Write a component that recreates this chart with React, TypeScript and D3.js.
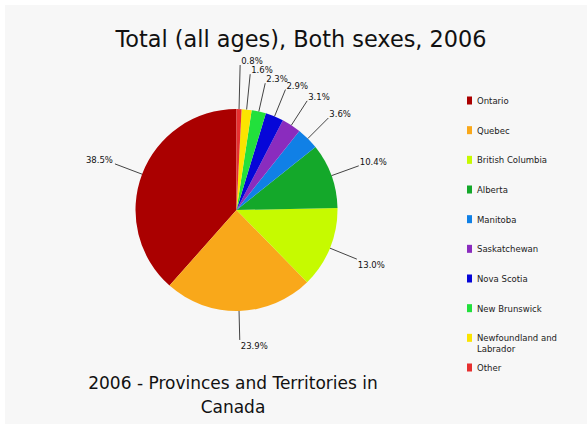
import React from "react";
import { pie, arc, scalePoint } from "d3";

// legend order (pie runs counter-clockwise from 12 o'clock in this order)
const provinces = [
  "Ontario",
  "Quebec",
  "British Columbia",
  "Alberta",
  "Manitoba",
  "Saskatchewan",
  "Nova Scotia",
  "New Brunswick",
  "Newfoundland and Labrador",
  "Other",
];
const shares = [38.5, 23.9, 13.0, 10.4, 3.6, 3.1, 2.9, 2.3, 1.6, 0.8];
const sliceColors = [
  "#aa0000",
  "#f9a81a",
  "#c6fa00",
  "#14a82a",
  "#1080e6",
  "#8a2cbe",
  "#0606d8",
  "#22e03c",
  "#fbe400",
  "#e63030",
];
const chartTitle = "Total (all ages), Both sexes, 2006";
const captionLines = ["2006 - Provinces and Territories in", "Canada"];

const W = 587;
const H = 424;
const cx = 236.5;
const cy = 210;
const radius = 101;
const labelRadius = 130;
const smallFont = "DejaVu Sans, Verdana, sans-serif";

// break long legend names onto two lines
function wrap(name: string, maxLen = 16): string[] {
  if (name.length <= maxLen) return [name];
  const cut = name.lastIndexOf(" ", maxLen);
  return [name.slice(0, cut), name.slice(cut + 1)];
}

type Box = { x0: number; x1: number; y0: number; y1: number };

function App() {
  const data = provinces.map((name, i) => ({ name, value: shares[i], color: sliceColors[i] }));

  const pieGen = pie<any>()
    .sort(null)
    .value((d) => d.value)
    .startAngle(2 * Math.PI)
    .endAngle(0);
  const arcs = pieGen(data);
  const arcGen = arc<any>().innerRadius(0).outerRadius(radius);

  // place labels, pushing small ones outward when they collide
  const placed: Box[] = [];
  const labels = arcs.map((a) => {
    const mid = (a.startAngle + a.endAngle) / 2;
    const sx = Math.sin(mid);
    const cyDir = -Math.cos(mid);
    const text = a.data.value.toFixed(1) + "%";
    const w = text.length * 5;
    const right = sx >= 0;
    const upper = cyDir < 0;
    const makeBox = (r: number) => {
      const ex = cx + r * sx;
      const ey = cy + r * cyDir;
      const base = upper ? ey - 1 : ey + 9;
      const x0 = right ? ex : ex - 2 - w;
      return { ex, ey, base, box: { x0, x1: x0 + w, y0: base - 7, y1: base } };
    };
    let r = labelRadius;
    let p = makeBox(r);
    const hits = (b: Box) =>
      placed.some((q) => b.x0 < q.x1 && b.x1 > q.x0 && b.y0 < q.y1 + 2 && b.y1 > q.y0 - 2);
    while (hits(p.box) && r < 200) {
      r += 0.5;
      p = makeBox(r);
    }
    placed.push(p.box);
    return {
      text,
      x1: cx + radius * sx,
      y1: cy + radius * cyDir,
      x2: p.ex,
      y2: p.ey,
      tx: right ? p.ex + 1 : p.ex - 2,
      ty: p.base,
      anchor: right ? "start" : "end",
    };
  });

  const legendY = scalePoint<string>().domain(provinces).range([101, 368]);

  return (
    <div style={{ position: "absolute", left: 0, top: 0 }}>
      <svg width={W} height={H} style={{ display: "block" }}>
        <rect x={0} y={0} width={W} height={H} fill="#ffffff" />
        <rect x={5} y={5} width={W - 5} height={H - 5} fill="#f7f7f7" />
        <text
          x={301}
          y={47}
          textAnchor="middle"
          fontFamily={smallFont}
          fontSize={22.4}
          fill="#111"
        >
          {chartTitle}
        </text>
        <g transform={`translate(${cx},${cy})`}>
          {arcs.map((a, i) => (
            <path key={i} d={arcGen(a) || ""} fill={a.data.color} />
          ))}
        </g>
        {labels.map((l, i) => (
          <g key={i}>
            <line x1={l.x1} y1={l.y1} x2={l.x2} y2={l.y2} stroke="#444" strokeWidth={1} />
            <text
              x={l.tx}
              y={l.ty}
              textAnchor={l.anchor}
              fontFamily={smallFont}
              fontSize={8.5}
              fill="#111"
            >
              {l.text}
            </text>
          </g>
        ))}
        {provinces.map((name, i) => {
          const y = legendY(name) as number;
          return (
            <g key={name}>
              <rect x={467} y={y - 4.5} width={5} height={8} fill={sliceColors[i]} />
              {wrap(name).map((line, j) => (
                <text
                  key={j}
                  x={477}
                  y={y + 3 + j * 11}
                  fontFamily={smallFont}
                  fontSize={8.5}
                  fill="#222"
                >
                  {line}
                </text>
              ))}
            </g>
          );
        })}
        {captionLines.map((line, i) => (
          <text
            key={i}
            x={233}
            y={389 + i * 24}
            textAnchor="middle"
            fontFamily={smallFont}
            fontSize={17}
            fill="#111"
          >
            {line}
          </text>
        ))}
      </svg>
    </div>
  );
}

export default App;
